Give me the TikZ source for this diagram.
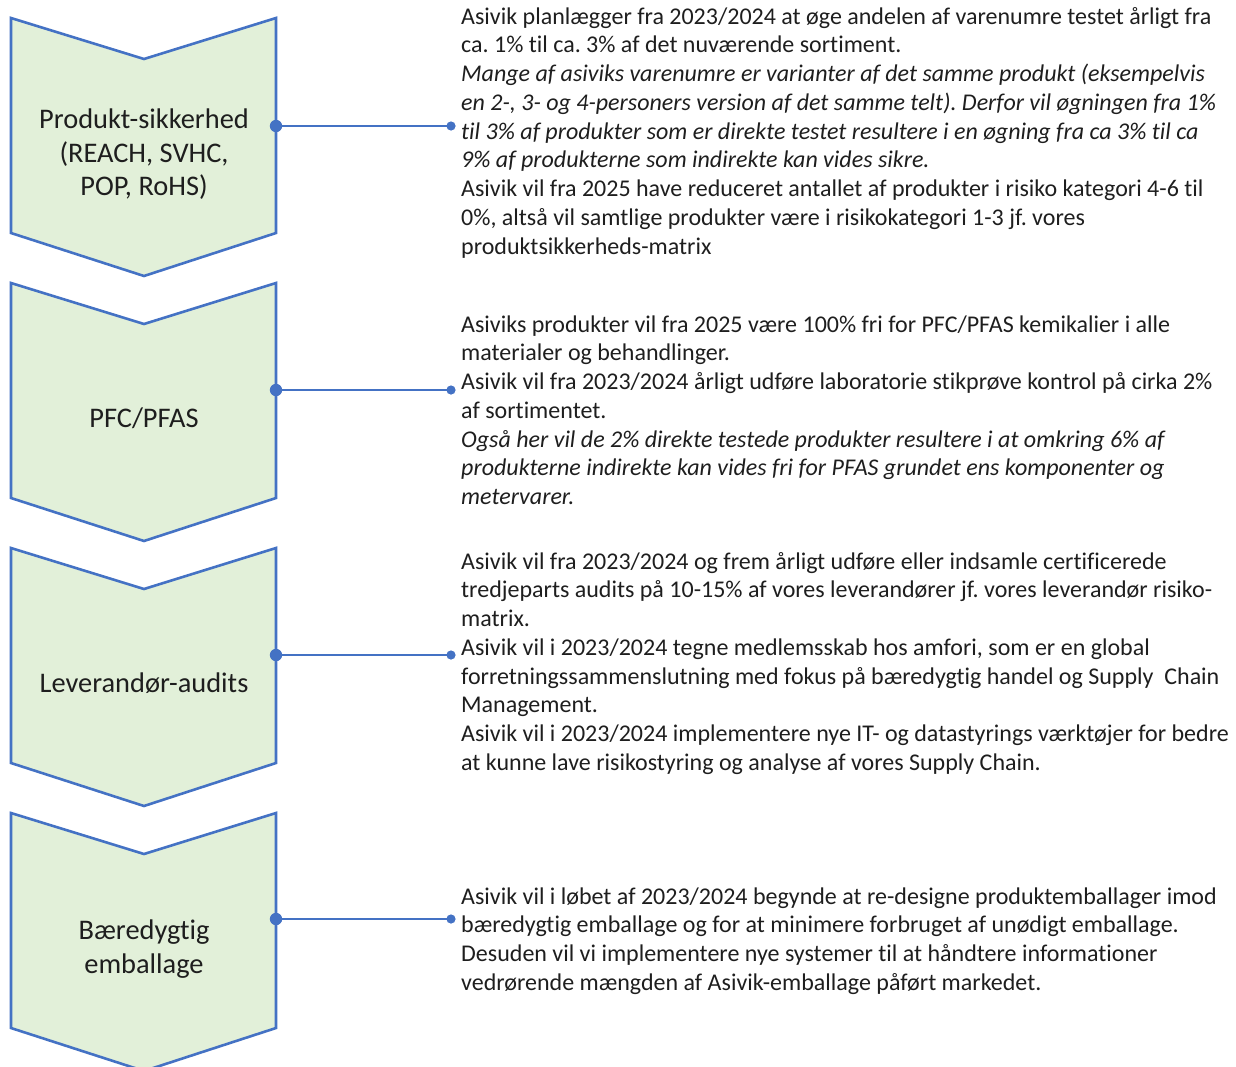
\documentclass[tikz,border=0pt]{standalone}
\usepackage{fontspec}
\setmainfont{Carlito}[Ligatures={NoCommon}]
\definecolor{chfill}{HTML}{E2F0D9}
\definecolor{chline}{HTML}{4472C4}
\definecolor{txt}{HTML}{1E1E1E}
\tikzset{
  chev/.style={fill=chfill, draw=chline, line width=2.6pt, line join=miter},
  conn/.style={draw=chline, line width=2pt},
  dotbig/.style={fill=chline},
  body/.style={anchor=base west, inner sep=0pt, text=txt, font=\fontsize{24}{28.75}\selectfont},
  lbl/.style={anchor=base, inner sep=0pt, text=txt, font=\fontsize{28.4}{34}\selectfont},
}
\frenchspacing
\begin{document}
\begin{tikzpicture}[x=1pt,y=-1pt]
\useasboundingbox (0,0) rectangle (1236,1066);
\clip (0,0) rectangle (1236,1066);
% chevrons
\foreach \T [count=\k] in {18,283,548,813} {
  \path[chev] (11,\T) -- (144,\T+41) -- (276,\T) -- (276,\T+215) -- (144,\T+258) -- (11,\T+215) -- cycle;
}
% chevron labels
\node[lbl] (l1a) at (144,128.5) {Produkt-sikkerhed};
\node[lbl] (l1b) at (144,162) {(REACH, SVHC,};
\node[lbl] (l1c) at (144,195.5) {POP, RoHS)};
\node[lbl] (l2) at (144,427) {PFC/PFAS};
\node[lbl] (l3) at (144,692) {Leverandør-audits};
\node[lbl] (l4a) at (144,939.5) {Bæredygtig};
\node[lbl] (l4b) at (144,973) {emballage};
% body text
\foreach \t [count=\i] in {
  {Asivik planlægger fra 2023/2024 at øge andelen af varenumre testet årligt fra},
  {ca. 1\% til ca. 3\% af det nuværende sortiment.},
  {\itshape Mange af asiviks varenumre er varianter af det samme produkt (eksempelvis},
  {\itshape en 2-, 3- og 4-personers version af det samme telt). Derfor vil øgningen fra 1\%},
  {\itshape til 3\% af produkter som er direkte testet resultere i en øgning fra ca 3\% til ca},
  {\itshape 9\% af produkterne som indirekte kan vides sikre.},
  {Asivik vil fra 2025 have reduceret antallet af produkter i risiko kategori 4-6 til},
  {0\%, altså vil samtlige produkter være i risikokategori 1-3 jf. vores},
  {produktsikkerheds-matrix}}
  \node[body] (a\i) at (461,24+28.75*\i-28.75) {\t};
\foreach \t [count=\i] in {
  {Asiviks produkter vil fra 2025 være 100\% fri for PFC/PFAS kemikalier i alle},
  {materialer og behandlinger.},
  {Asivik vil fra 2023/2024 årligt udføre laboratorie stikprøve kontrol på cirka 2\%},
  {af sortimentet.},
  {\itshape Også her vil de 2\% direkte testede produkter resultere i at omkring 6\% af},
  {\itshape produkterne indirekte kan vides fri for PFAS grundet ens komponenter og},
  {\itshape metervarer.}}
  \node[body] (b\i) at (461,332+28.75*\i-28.75) {\t};
\foreach \t [count=\i] in {
  {Asivik vil fra 2023/2024 og frem årligt udføre eller indsamle certificerede},
  {tredjeparts audits på 10-15\% af vores leverandører jf. vores leverandør risiko-},
  {matrix.},
  {Asivik vil i 2023/2024 tegne medlemsskab hos amfori, som er en global},
  {forretningssammenslutning med fokus på bæredygtig handel og Supply\ \ Chain},
  {Management.},
  {Asivik vil i 2023/2024 implementere nye IT- og datastyrings værktøjer for bedre},
  {at kunne lave risikostyring og analyse af vores Supply Chain.}}
  \node[body] (c\i) at (461,569+28.75*\i-28.75) {\t};
\foreach \t [count=\i] in {
  {Asivik vil i løbet af 2023/2024 begynde at re-designe produktemballager imod},
  {bæredygtig emballage og for at minimere forbruget af unødigt emballage.},
  {Desuden vil vi implementere nye systemer til at håndtere informationer},
  {vedrørende mængden af Asivik-emballage påført markedet.}}
  \node[body] (d\i) at (461,904+28.75*\i-28.75) {\t};
% connectors
\coordinate (s1) at (276,126);  \coordinate (e1) at (451,126);
\coordinate (s2) at (276,390);  \coordinate (e2) at (451,390);
\coordinate (s3) at (276,655);  \coordinate (e3) at (451,655);
\coordinate (s4) at (276,919);  \coordinate (e4) at (451,919);
\foreach \k in {1,2,3,4} {
  \draw[conn] (s\k) -- (e\k);
  \fill[dotbig] (s\k) circle (6.2pt);
  \fill[dotbig] (e\k) circle (4.6pt);
}
\end{tikzpicture}
\end{document}
